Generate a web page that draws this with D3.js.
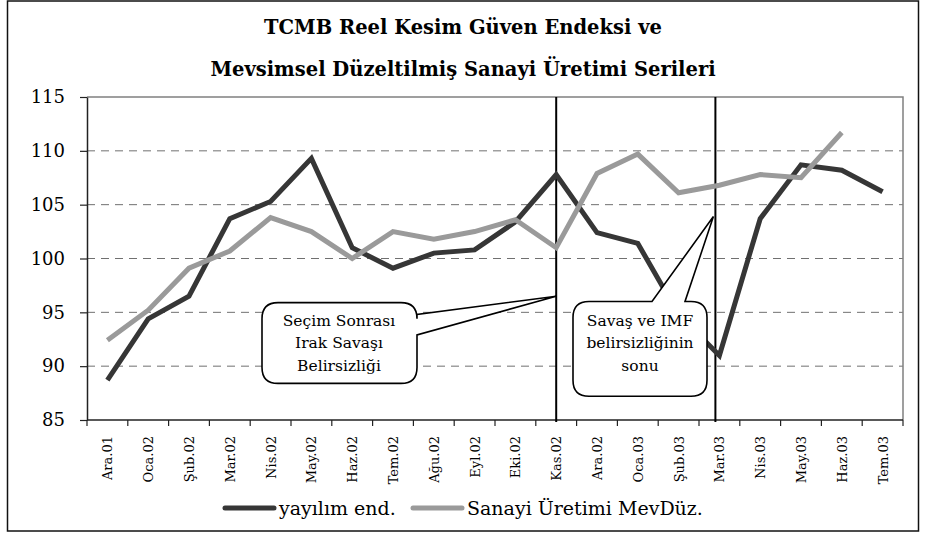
<!DOCTYPE html>
<html>
<head>
<meta charset="utf-8">
<script src="https://cdn.jsdelivr.net/npm/d3@7"></script>
<style>
  body { margin: 0; background: #fff; }
  text { font-family: "DejaVu Serif", serif; fill: #000; }
</style>
</head>
<body>
<script>
// month labels (Turkish)
var months = ["Ara.01", "Oca.02", "Şub.02", "Mar.02", "Nis.02", "May.02", "Haz.02", "Tem.02",
              "Ağu.02", "Eyl.02", "Eki.02", "Kas.02", "Ara.02", "Oca.03", "Şub.03", "Mar.03",
              "Nis.03", "May.03", "Haz.03", "Tem.03"];

// yayılım endeksi (dark)
var yayilim = [88.7, 94.4, 96.5, 103.7, 105.3, 109.3, 101.0, 99.1, 100.5, 100.8,
               103.4, 107.8, 102.4, 101.4, 94.8, 91.0, 103.7, 108.7, 108.2, 106.2];

// sanayi üretimi mevsimsel düzeltilmiş (light), no value for Tem.03
var sanayi = [92.4, 95.2, 99.1, 100.7, 103.8, 102.5, 100.0, 102.5, 101.8, 102.5,
              103.6, 101.0, 107.9, 109.7, 106.1, 106.8, 107.8, 107.5, 111.7, null];

var yTicks = [85, 90, 95, 100, 105, 110, 115];

var seriesNames = ["yayılım end.", "Sanayi Üretimi MevDüz."];

var titleLines = ["TCMB Reel Kesim Güven Endeksi ve", "Mevsimsel Düzeltilmiş Sanayi Üretimi Serileri"];

var W = 925, H = 535;
var margin = {top: 97, right: 22, bottom: 115, left: 87},
    width = W - margin.left - margin.right,
    height = H - margin.top - margin.bottom;

var darkColor = "#363636", lightColor = "#9a9a9a";

var svg = d3.select("body").append("svg")
    .attr("width", W)
    .attr("height", H);

// outer frame
svg.append("rect")
    .attr("x", 7.5).attr("y", 1)
    .attr("width", 911).attr("height", 530)
    .attr("fill", "none")
    .attr("stroke", "#111")
    .attr("stroke-width", 1.5);

// title
svg.selectAll(".title")
    .data(titleLines)
  .enter().append("text")
    .attr("class", "title")
    .attr("x", 463)
    .attr("y", function(d, i) { return 34 + i * 42; })
    .attr("text-anchor", "middle")
    .style("font-size", "19.5px")
    .style("font-weight", "bold")
    .text(function(d) { return d; });

var g = svg.append("g")
    .attr("transform", "translate(" + margin.left + "," + margin.top + ")");

var x = d3.scaleBand()
    .domain(months)
    .range([0, width]);
var y = d3.scaleLinear()
    .domain([85, 115])
    .range([height, 0]);

function cx(i) { return x(months[i]) + x.bandwidth() / 2; }

// grid lines
g.selectAll(".grid")
    .data(yTicks.filter(function(d) { return d > 85 && d < 115; }))
  .enter().append("line")
    .attr("x1", 0).attr("x2", width)
    .attr("y1", function(d) { return y(d); })
    .attr("y2", function(d) { return y(d); })
    .attr("stroke", "#707070")
    .attr("stroke-dasharray", "8,6");

// top and right border of plot area
g.append("path")
    .attr("d", "M0," + y(115) + "H" + width + "V" + height)
    .attr("fill", "none")
    .attr("stroke", "#808080")
    .attr("stroke-width", 1.5);

// y axis
var yAxis = g.append("g")
    .call(d3.axisLeft(y).tickValues(yTicks).tickSize(7).tickSizeOuter(0));
yAxis.select(".domain").attr("stroke", "#222").attr("stroke-width", 1.5);
yAxis.selectAll(".tick line").attr("stroke", "#222").attr("stroke-width", 1.2);
yAxis.selectAll("text")
    .attr("x", -22)
    .style("font-family", "DejaVu Serif, serif")
    .style("font-size", "18px");

// x axis: ticks at band edges
var xAxis = g.append("g")
    .attr("transform", "translate(0," + height + ")");
xAxis.append("line")
    .attr("x1", 0).attr("x2", width)
    .attr("stroke", "#222").attr("stroke-width", 1.5);
xAxis.selectAll(".xtick")
    .data(months.concat(["end"]))
  .enter().append("line")
    .attr("x1", function(d, i) { return i * x.bandwidth(); })
    .attr("x2", function(d, i) { return i * x.bandwidth(); })
    .attr("y1", 0).attr("y2", 6)
    .attr("stroke", "#222").attr("stroke-width", 1.2);
xAxis.selectAll(".xlabel")
    .data(months)
  .enter().append("text")
    .attr("transform", function(d) {
      return "translate(" + (x(d) + x.bandwidth() / 2 + 5) + ",16) rotate(-90)";
    })
    .attr("text-anchor", "end")
    .style("font-size", "13px")
    .text(function(d) { return d; });

// event lines (Kas.02 and Mar.03)
var events = [11, 15];
g.selectAll(".event")
    .data(events)
  .enter().append("line")
    .attr("x1", function(d, i) { return cx(d) - (i === 1 ? 4 : 0); })
    .attr("x2", function(d, i) { return cx(d) - (i === 1 ? 4 : 0); })
    .attr("y1", 0).attr("y2", height + 2)
    .attr("stroke", "#000")
    .attr("stroke-width", 2);

// series lines
var line = d3.line()
    .defined(function(d) { return d != null; })
    .x(function(d, i) { return cx(i); })
    .y(function(d) { return y(d); });

g.append("path")
    .datum(yayilim)
    .attr("d", line)
    .attr("fill", "none")
    .attr("stroke", darkColor)
    .attr("stroke-width", 5);

g.append("path")
    .datum(sanayi)
    .attr("d", line)
    .attr("fill", "none")
    .attr("stroke", lightColor)
    .attr("stroke-width", 5);

// callouts
function callout(box, baseA, baseB, tip, lines, textX, textY) {
  // box: [x0, y0, x1, y1] in pixels relative to plot
  var r = 16;
  var x0 = box[0], y0 = box[1], x1 = box[2], y1 = box[3];
  var p = d3.path();
  p.moveTo(x0 + r, y0);
  if (baseA.side === "top") {
    p.lineTo(baseA.x, y0);
    p.lineTo(tip[0], tip[1]);
    p.lineTo(baseB.x, y0);
  }
  p.lineTo(x1 - r, y0);
  p.quadraticCurveTo(x1, y0, x1, y0 + r);
  if (baseA.side === "right") {
    p.lineTo(x1, baseA.y);
    p.lineTo(tip[0], tip[1]);
    p.lineTo(x1, baseB.y);
  }
  p.lineTo(x1, y1 - r);
  p.quadraticCurveTo(x1, y1, x1 - r, y1);
  p.lineTo(x0 + r, y1);
  p.quadraticCurveTo(x0, y1, x0, y1 - r);
  p.lineTo(x0, y0 + r);
  p.quadraticCurveTo(x0, y0, x0 + r, y0);
  p.closePath();
  g.append("path")
    .attr("d", p.toString())
    .attr("fill", "#fff")
    .attr("stroke", "#000")
    .attr("stroke-width", 1.6);
  g.selectAll(null)
    .data(lines)
  .enter().append("text")
    .attr("x", textX)
    .attr("y", function(d, i) { return textY + i * 22.5; })
    .attr("text-anchor", "middle")
    .style("font-size", "15.5px")
    .text(function(d) { return d; });
}

var note1 = ["Seçim Sonrası", "Irak Savaşı", "Belirsizliği"];
var note2 = ["Savaş ve IMF", "belirsizliğinin", "sonu"];

callout([175, y(95.9), 330, y(88.4)],
        {side: "right", y: y(94.8)}, {side: "right", y: y(92.9)},
        [cx(11), y(96.5)], note1, 252, y(94.2) + 5);

callout([486, y(96.0), 620, y(87.2)],
        {side: "top", x: 565}, {side: "top", x: 598},
        [cx(15) - 6, y(103.9)], note2, 553, y(94.2) + 5);

// legend
var legend = svg.append("g")
    .attr("transform", "translate(0,508)");
var legendItems = [
  {name: seriesNames[0], color: darkColor, x0: 225},
  {name: seriesNames[1], color: lightColor, x0: 413}
];
legend.selectAll(".lg-line")
    .data(legendItems)
  .enter().append("line")
    .attr("x1", function(d) { return d.x0; })
    .attr("x2", function(d) { return d.x0 + 49; })
    .attr("stroke", function(d) { return d.color; })
    .attr("stroke-width", 5)
    .attr("stroke-linecap", "round");
legend.selectAll(".lg-text")
    .data(legendItems)
  .enter().append("text")
    .attr("x", function(d) { return d.x0 + 54; })
    .attr("y", 7)
    .style("font-size", "19px")
    .text(function(d) { return d.name; });
</script>
</body>
</html>
